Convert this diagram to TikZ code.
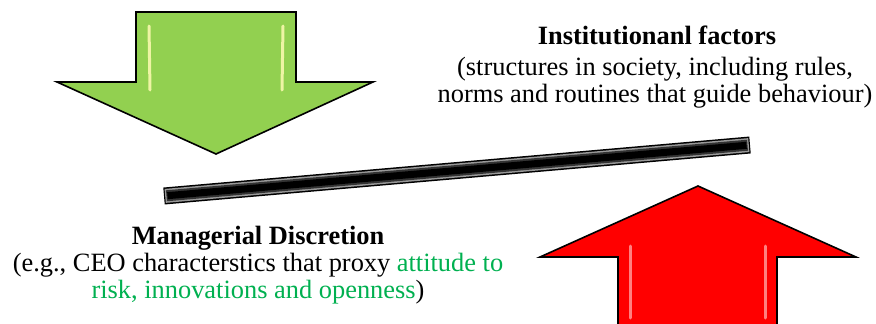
\documentclass[tikz,border=0pt]{standalone}
\usepackage{fontspec}
\usetikzlibrary{calc}
\setmainfont{Liberation Serif}
\definecolor{arrgreen}{HTML}{92D050}
\definecolor{arrred}{HTML}{FF0000}
\definecolor{txtgreen}{HTML}{00B050}
\tikzset{
  arrowshape/.style={draw=black, line width=1.6pt, line join=miter},
  glint/.style={line width=3pt, line cap=round},
  lbl/.style={font=\fontsize{26.4}{27}\selectfont, anchor=base, inner sep=0pt},
  ttl/.style={lbl, font=\fontsize{26.4}{27}\selectfont\bfseries},
  barlayer/.style={line cap=butt}
}
\begin{document}
\begin{tikzpicture}[x=1pt,y=-1pt]
\useasboundingbox (0,0) rectangle (876,324);
\clip (0,0) rectangle (876,324);
% green arrow (down)
\draw[arrowshape, fill=arrgreen] (136,12) -- (296,12) -- (296,82) -- (373,82) -- (216,154) -- (57,82) -- (136,82) -- cycle;
\draw[glint, color=yellow!30!white, opacity=0.85] (149,26) -- (150,90);
\draw[glint, color=yellow!30!white, opacity=0.85] (283,26) -- (282,90);
% red arrow (up)
\draw[arrowshape, fill=arrred] (618,340) -- (618,257) -- (540,257) -- (698,186) -- (856,257) -- (777,257) -- (777,340) -- cycle;
\draw[glint, color=white, opacity=0.5] (630,246) -- (630,318);
\draw[glint, color=white, opacity=0.5] (765,246) -- (765,318);
% lever bar
\coordinate (barL) at (164,196);
\coordinate (barR) at (750,145);
\draw[barlayer, line width=17pt, black] (barL) -- (barR);
\draw[barlayer, line width=14pt, gray!80] ($(barL)!1.2pt!(barR)$) -- ($(barR)!1.2pt!(barL)$);
\draw[barlayer, line width=11pt, gray!40!black] ($(barL)!2.5pt!(barR)$) -- ($(barR)!2.5pt!(barL)$);
\draw[barlayer, line width=7pt, black] ($(barL)!3.5pt!(barR)$) -- ($(barR)!3.5pt!(barL)$);
% texts
\node[ttl] (instT) at (657,45) {Institutionanl factors};
\node[lbl] (inst1) at (655,75) {(structures in society, including rules,};
\node[lbl] (inst2) at (655,102) {norms and routines that guide behaviour)};
\node[ttl] (manT) at (258,244) {Managerial Discretion};
\node[lbl] (man1) at (258,271) {(e.g., CEO characterstics that proxy \textcolor{txtgreen}{attitude to}};
\node[lbl] (man2) at (258,298) {\textcolor{txtgreen}{risk, innovations and openness})};
\end{tikzpicture}
\end{document}
